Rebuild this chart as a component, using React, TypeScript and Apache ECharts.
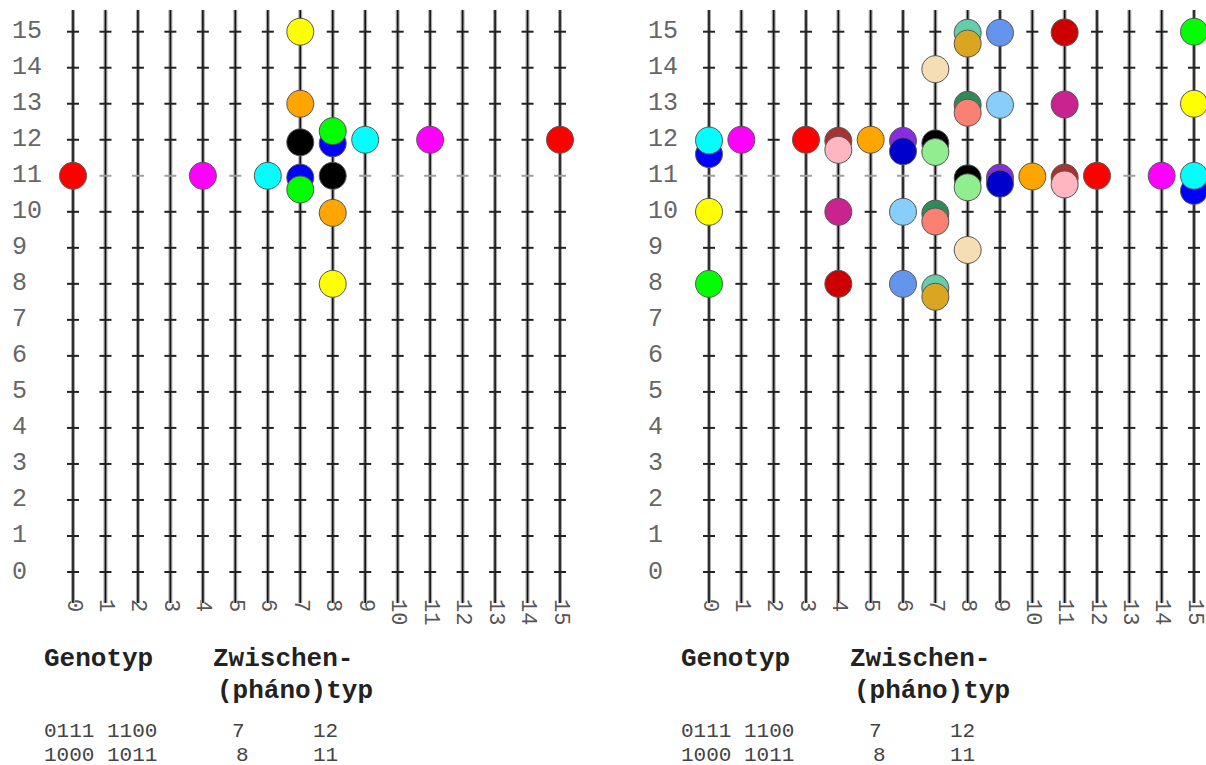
import React, { useEffect, useRef } from 'react';
import * as echarts from 'echarts';

// ---- axes ----
const xCategories = [0, 1, 2, 3, 4, 5, 6, 7, 8, 9, 10, 11, 12, 13, 14, 15];
const yTicks = [0, 1, 2, 3, 4, 5, 6, 7, 8, 9, 10, 11, 12, 13, 14, 15];
const xTickLabels = ['0', '1', '2', '3', '4', '5', '6', '7', '8', '9', '10', '11', '12', '13', '14', '15'];
const yTickLabels = ['0', '1', '2', '3', '4', '5', '6', '7', '8', '9', '10', '11', '12', '13', '14', '15'];
const lightTick = 11;

// ---- dots: [x, y, colour] (later ones drawn on top) ----
const leftDots: [number, number, string][] = [
  [0, 11, '#ff0000'],
  [4, 11, '#ff00ff'],
  [6, 11, '#00ffff'],
  [7, 15, '#ffff00'],
  [7, 13, '#ffa500'],
  [7, 11.93, '#000000'],
  [7, 10.95, '#0000ff'],
  [7, 10.62, '#00ff00'],
  [8, 11.9, '#0000ff'],
  [8, 12.24, '#00ff00'],
  [8, 11, '#000000'],
  [8, 9.97, '#ffa500'],
  [8, 8, '#ffff00'],
  [9, 12, '#00ffff'],
  [11, 12, '#ff00ff'],
  [15, 12, '#ff0000'],
];

const rightDots: [number, number, string][] = [
  [0, 11.6, '#0000ff'],
  [0, 11.98, '#00ffff'],
  [0, 10, '#ffff00'],
  [0, 8, '#00ff00'],
  [1, 12, '#ff00ff'],
  [3, 12, '#ff0000'],
  [4, 11.97, '#a83232'],
  [4, 11.72, '#ffb6c1'],
  [4, 10, '#c8238e'],
  [4, 8, '#cc0000'],
  [5, 12, '#ffa500'],
  [6, 11.97, '#8a2be2'],
  [6, 11.68, '#0000cd'],
  [6, 10, '#87cefa'],
  [6, 8, '#6495ed'],
  [7, 13.96, '#f5deb3'],
  [7, 11.9, '#000000'],
  [7, 11.66, '#90ee90'],
  [7, 9.95, '#2e8b57'],
  [7, 9.73, '#fa8072'],
  [7, 7.88, '#66cdaa'],
  [7, 7.64, '#daa520'],
  [8, 14.97, '#66cdaa'],
  [8, 14.67, '#daa520'],
  [8, 12.97, '#2e8b57'],
  [8, 12.75, '#fa8072'],
  [8, 10.93, '#000000'],
  [8, 10.68, '#90ee90'],
  [8, 8.94, '#f5deb3'],
  [9, 14.97, '#6495ed'],
  [9, 12.97, '#87cefa'],
  [9, 10.95, '#8a2be2'],
  [9, 10.78, '#0000cd'],
  [10, 10.98, '#ffa500'],
  [11, 14.98, '#cc0000'],
  [11, 12.98, '#c8238e'],
  [11, 10.95, '#a83232'],
  [11, 10.76, '#ffb6c1'],
  [12, 11, '#ff0000'],
  [14, 11, '#ff00ff'],
  [15, 15, '#00ff00'],
  [15, 13, '#ffff00'],
  [15, 10.58, '#0000ff'],
  [15, 11, '#00ffff'],
];

// ---- captions ----
const headGenotyp = 'Genotyp';
const headZwischen = 'Zwischen-';
const headPheno = '(pháno)typ';
const genotypes = ['0111 1100', '1000 1011'];
const phenoFirst = ['7', '8'];
const phenoSecond = ['12', '11'];

const lineTop = 15.6;
const lineBottom = -0.86;

function linesSeries(idx: number) {
  return {
    type: 'custom',
    xAxisIndex: idx,
    yAxisIndex: idx,
    z: 1,
    silent: true,
    data: xCategories.map((x) => [x, 0]),
    renderItem: (_params: any, api: any) => {
      const x = api.value(0);
      const top = api.coord([x, lineTop]);
      const bot = api.coord([x, lineBottom]);
      const children: any[] = [
        { type: 'line', shape: { x1: top[0], y1: top[1], x2: bot[0], y2: bot[1] }, style: { stroke: '#a8a8a8', lineWidth: 4 } },
        { type: 'line', shape: { x1: top[0], y1: top[1], x2: bot[0], y2: bot[1] }, style: { stroke: '#111', lineWidth: 1.6 } },
      ];
      yTicks.forEach((t) => {
        const p = api.coord([x, t]);
        children.push({
          type: 'line',
          shape: { x1: p[0] - 6, y1: p[1], x2: p[0] + 6, y2: p[1] },
          style: { stroke: t === lightTick ? '#a0a0a0' : '#222', lineWidth: 2 },
        });
      });
      return { type: 'group', children };
    },
  };
}

function dotSeries(idx: number, dots: [number, number, string][]) {
  return {
    type: 'scatter',
    xAxisIndex: idx,
    yAxisIndex: idx,
    z: 2,
    clip: false,
    symbolSize: 27,
    data: dots.map(([x, y, c]) => ({ value: [x, y], itemStyle: { color: c } })),
    itemStyle: { borderColor: '#555', borderWidth: 1, opacity: 1 },
  };
}

const monoFont = '"Liberation Mono", "DejaVu Sans Mono", monospace';

function captions(offset: number) {
  const els: any[] = [];
  const head = (text: string, x: number, y: number) => ({
    type: 'text',
    x: x + offset,
    y,
    style: { text, fontFamily: monoFont, fontSize: 26, fontWeight: 'bold', fill: '#222', verticalAlign: 'middle' },
  });
  const small = (text: string, x: number, y: number) => ({
    type: 'text',
    x: x + offset,
    y,
    style: { text, fontFamily: monoFont, fontSize: 21, fill: '#444', verticalAlign: 'middle' },
  });
  els.push(head(headGenotyp, 44, 659));
  els.push(head(headZwischen, 213, 659));
  els.push(head(headPheno, 217, 691));
  const rowsY = [731, 755];
  genotypes.forEach((g, i) => {
    els.push(small(g, 44, rowsY[i]));
    els.push(small(phenoFirst[i], 232 + i * 4, rowsY[i]));
    els.push(small(phenoSecond[i], 313, rowsY[i]));
  });
  return els;
}

function axisPair(idx: number) {
  const xAxis = {
    type: 'value',
    gridIndex: idx,
    min: 0,
    max: 15,
    interval: 1,
    axisLine: { show: false },
    axisTick: { show: false },
    splitLine: { show: false },
    axisLabel: {
      rotate: -90,
      margin: 27,
      fontFamily: monoFont,
      fontSize: 22,
      color: '#555',
      formatter: (v: number) => xTickLabels[v] ?? '',
    },
  };
  const yAxis = {
    type: 'value',
    gridIndex: idx,
    min: 0,
    max: 15,
    interval: 1,
    axisLine: { show: false },
    axisTick: { show: false },
    splitLine: { show: false },
    axisLabel: {
      align: 'left',
      margin: 61,
      fontFamily: monoFont,
      fontSize: 25,
      color: '#666',
      formatter: (v: number) => yTickLabels[v] ?? '',
    },
  };
  return { xAxis, yAxis };
}

export default function App() {
  const ref = useRef<HTMLDivElement>(null);
  useEffect(() => {
    if (!ref.current) return;
    const chart = echarts.init(ref.current, undefined, { renderer: 'svg' });
    const a0 = axisPair(0);
    const a1 = axisPair(1);
    chart.setOption({
      animation: false,
      backgroundColor: '#ffffff',
      grid: [
        { left: 73, width: 487, top: 31.7, height: 540.3 },
        { left: 709, width: 485, top: 31.7, height: 540.3 },
      ],
      xAxis: [a0.xAxis, a1.xAxis],
      yAxis: [a0.yAxis, a1.yAxis],
      series: [linesSeries(0), linesSeries(1), dotSeries(0, leftDots), dotSeries(1, rightDots)],
      graphic: [...captions(0), ...captions(637)],
    });
    return () => chart.dispose();
  }, []);
  return <div ref={ref} style={{ position: 'absolute', left: 0, top: 0, width: 1206, height: 765 }} />;
}
